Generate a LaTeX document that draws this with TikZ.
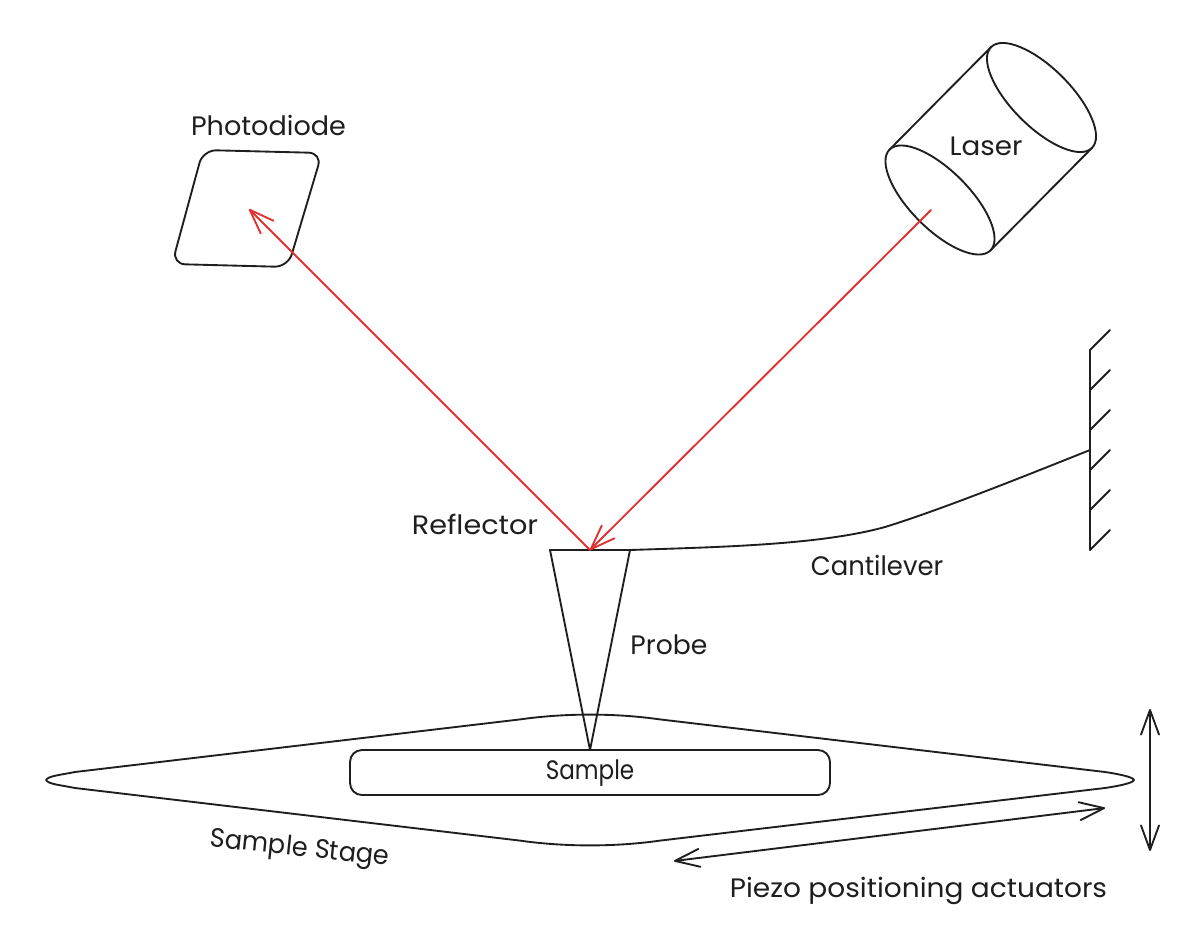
\documentclass[tikz,border=0pt]{standalone}
\usepackage{graphicx}
\usepackage{fontspec}
\setmainfont{Poppins}
\usetikzlibrary{arrows.meta,shapes.geometric}
\definecolor{ink}{HTML}{1E1E1E}
\definecolor{beam}{HTML}{E03131}
\newcommand{\wide}[2]{\scalebox{#1}[1]{#2}}
\tikzset{
  stroke/.style={draw=ink,line width=1.4pt,line join=round,line cap=round},
  ray/.style={draw=beam,line width=1.4pt,line cap=round},
  barb/.tip={Straight Barb[length=18.5pt,width=13.5pt,round]},
  labelfont/.style={font=\fontsize{20}{20}\selectfont},
  label/.style={text=ink,labelfont,anchor=base,inner sep=0pt},
  lens/.style={stroke,ellipse,inner sep=0pt,outer sep=0pt,minimum width=107pt,minimum height=44pt,rotate=-45},
}
\begin{document}
\begin{tikzpicture}[x=0.75pt,y=-0.75pt]
\useasboundingbox (0,0) rectangle (1200,939);
\fill[white] (0,0) rectangle (1200,939);

% Laser
\node[lens] (front) at (940,200) {};
\node[lens] (back) at (1041.5,97.5) {};
\draw[stroke] (front.west) -- (back.west);
\draw[stroke] (front.east) -- (back.east);
\node[label] (laser) at (986,155) {\wide{1.04}{Laser}};

% Photodiode
\draw[stroke,rounded corners=10pt] (203,150) -- (322,153) -- (288,267) -- (172,264) -- cycle;
\node[label] (photodiode) at (268.5,135) {\wide{1.015}{Photodiode}};

% Probe and reflector
\coordinate (refL) at (550,550);
\coordinate (refR) at (630,550);
\coordinate (tip) at (590,750);
\coordinate (hit) at (590,550);
\draw[stroke,line width=1.8pt] (refL) -- (refR);
\draw[stroke] (refL) -- (tip) -- (refR);
\node[label] (reflector) at (475,534) {\wide{1.075}{Reflector}};
\node[label] (probe) at (669,654) {Probe};

% Cantilever and wall
\coordinate (wallTop) at (1090,350);
\coordinate (wallBot) at (1090,550);
\coordinate (mount) at (1090,450);
\draw[stroke] (wallTop) -- (wallBot);
\foreach \h in {350,390,430,470,510,550}
  \draw[stroke] (1090,\h) -- (1110,\h-20);
\draw[stroke] (refR) .. controls (720,547) and (820,545) .. (885,527) .. controls (940,510) and (1020,478) .. (mount);
\node[label] (cantilever) at (877,575) {\wide{0.97}{Cantilever}};

% Beams
\coordinate (src) at (931,210);
\coordinate (det) at (249,209);
\draw[ray,-{barb}] (src) -- (hit);
\draw[ray,-{barb}] (hit) -- (det);

% Stage
\draw[stroke] (46,780) .. controls (48,776) and (60,775) .. (75,772) -- (520,719.4)
  .. controls (565,713) and (615,713) .. (660,719.4) -- (1105,772)
  .. controls (1125,775) and (1134,778) .. (1134,780)
  .. controls (1134,782) and (1125,785) .. (1105,788) -- (660,840.6)
  .. controls (615,847) and (565,847) .. (520,840.6) -- (75,788)
  .. controls (60,785) and (48,784) .. (46,780) -- cycle;
\node[stroke,rounded corners=9pt,minimum width=360pt,minimum height=33.75pt,inner sep=0pt,outer sep=0pt,
  text=ink,labelfont,text height=11.2pt,text depth=0pt] (sample) at (590,772.5) {\wide{0.865}{Sample}};
\node[label,rotate=-6] (stage) at (299,856) {\wide{0.96}{Sample Stage}};

% Actuators
\coordinate (vTop) at (1150,709);
\coordinate (vBot) at (1150,851);
\coordinate (hL) at (674,861);
\coordinate (hR) at (1105,808);
\draw[stroke,{barb}-{barb}] (vTop) -- (vBot);
\draw[stroke,{barb}-{barb}] (hL) -- (hR);
\node[label] (piezo) at (918.5,897) {\wide{1.05}{Piezo positioning actuators}};
\end{tikzpicture}
\end{document}
